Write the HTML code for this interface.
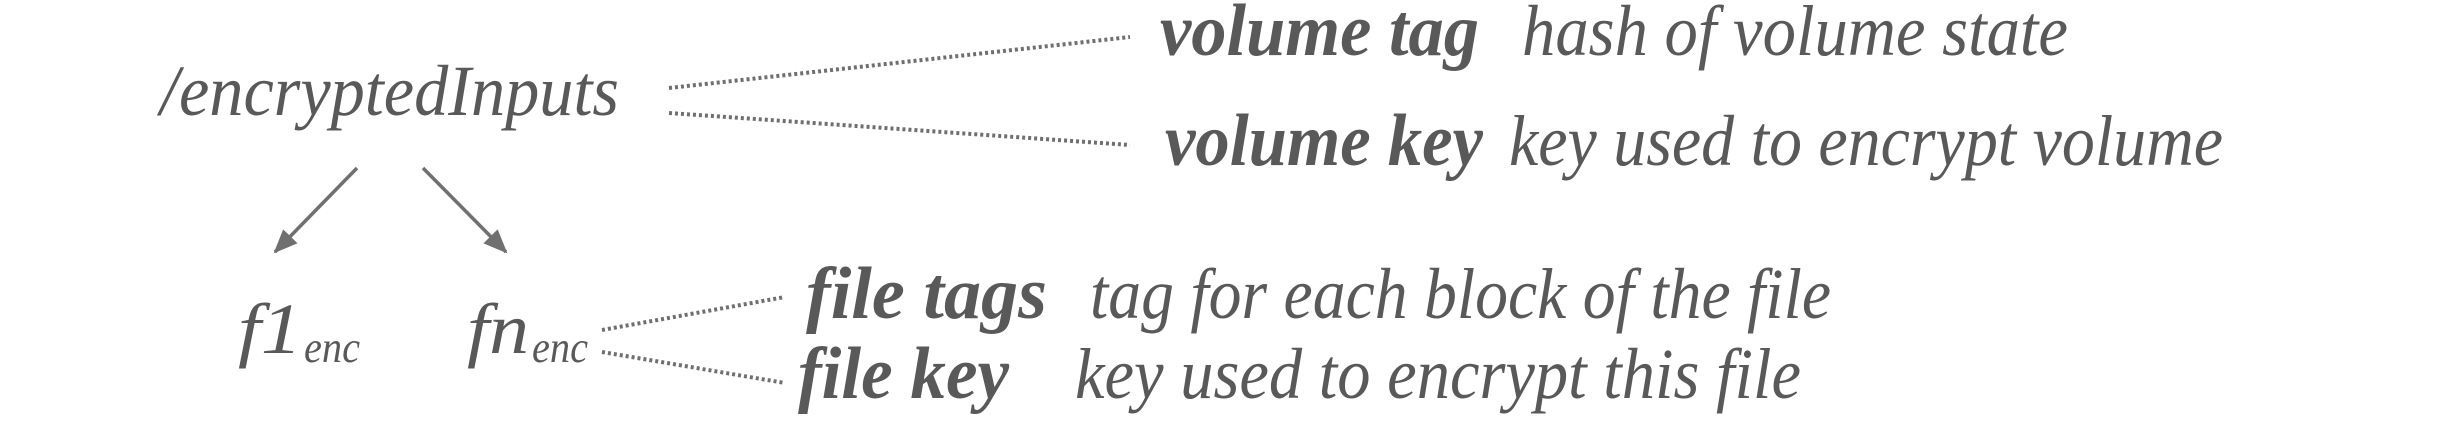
<!DOCTYPE html>
<html><head><meta charset="utf-8"><style>
html,body{margin:0;padding:0;background:#fff;width:2442px;height:446px;overflow:hidden}
svg text{font-family:"Liberation Serif",serif;font-style:italic;fill:#595959}
.b{font-weight:bold}
</style></head><body>
<svg width="2442" height="446" viewBox="0 0 2442 446" xmlns="http://www.w3.org/2000/svg">
<defs>
<marker id="a2" markerWidth="24" markerHeight="20" refX="22" refY="10" orient="auto" markerUnits="userSpaceOnUse"><path d="M0,0 L24,10 L0,20 z" fill="#707070"/></marker></defs>
<g stroke="#6f6f6f" stroke-width="4" stroke-dasharray="3 3" fill="none">
<line x1="669" y1="88" x2="1130" y2="37"/>
<line x1="669" y1="113" x2="1130" y2="145"/>
<line x1="602" y1="330" x2="785" y2="297"/>
<line x1="602" y1="352" x2="785" y2="383"/>
</g>
<g stroke="#707070" stroke-width="3.5">
<line x1="357" y1="168" x2="275" y2="252" marker-end="url(#a2)"/>
<line x1="423" y1="168" x2="506" y2="252" marker-end="url(#a2)"/>
</g>
<text x="160" y="115" font-size="72" textLength="459" lengthAdjust="spacingAndGlyphs">/encryptedInputs</text>
<text x="238" y="353" font-size="72" textLength="64" lengthAdjust="spacingAndGlyphs">f1</text>
<text x="304" y="362" font-size="44" textLength="56" lengthAdjust="spacingAndGlyphs">enc</text>
<text x="467" y="353" font-size="72" textLength="62" lengthAdjust="spacingAndGlyphs">fn</text>
<text x="532" y="362" font-size="44" textLength="56" lengthAdjust="spacingAndGlyphs">enc</text>
<text class="b" x="1160" y="55" font-size="74" textLength="319" lengthAdjust="spacingAndGlyphs">volume tag</text>
<text x="1522" y="55" font-size="72" textLength="546" lengthAdjust="spacingAndGlyphs">hash of volume state</text>
<text class="b" x="1165" y="165" font-size="74" textLength="318" lengthAdjust="spacingAndGlyphs">volume key</text>
<text x="1509" y="165" font-size="72" textLength="714" lengthAdjust="spacingAndGlyphs">key used to encrypt volume</text>
<text class="b" x="806" y="318" font-size="74" textLength="241" lengthAdjust="spacingAndGlyphs">file tags</text>
<text x="1090" y="318" font-size="72" textLength="741" lengthAdjust="spacingAndGlyphs">tag for each block of the file</text>
<text class="b" x="798" y="398" font-size="74" textLength="211" lengthAdjust="spacingAndGlyphs">file key</text>
<text x="1075" y="398" font-size="72" textLength="726" lengthAdjust="spacingAndGlyphs">key used to encrypt this file</text>
</svg>
</body></html>
